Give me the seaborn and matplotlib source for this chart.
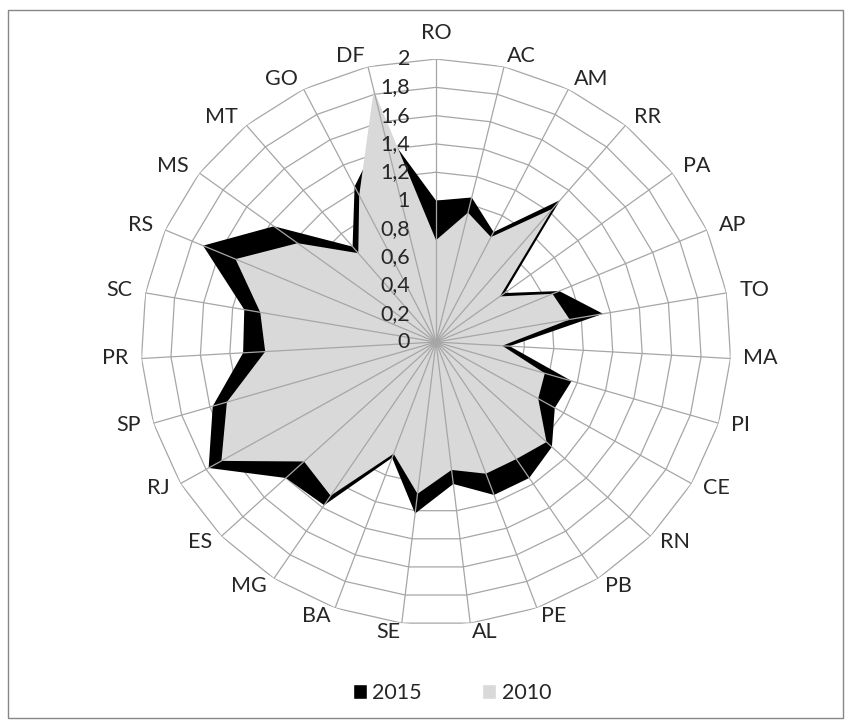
import numpy as np
import matplotlib
matplotlib.use("Agg")
import matplotlib.pyplot as plt
from matplotlib.patches import Patch, Rectangle
import seaborn as sns

# categories clockwise from the top
states = ["RO", "AC", "AM", "RR", "PA", "AP", "TO", "MA", "PI", "CE", "RN",
          "PB", "PE", "AL", "SE", "BA", "MG", "ES", "RJ", "SP", "PR", "SC",
          "RS", "MS", "MT", "GO", "DF"]

values_2015 = [1.00, 1.05, 0.87, 1.31, 0.58, 0.91, 1.15, 0.50, 0.96, 0.93,
               1.08, 1.15, 1.15, 1.01, 1.22, 0.87, 1.38, 1.40, 1.78, 1.58,
               1.31, 1.32, 1.72, 1.37, 0.88, 1.23, 1.55]
values_2010 = [0.72, 0.94, 0.83, 1.23, 0.54, 0.86, 0.92, 0.45, 0.77, 0.80,
               1.03, 0.99, 0.99, 0.91, 1.08, 0.84, 1.30, 1.23, 1.68, 1.48,
               1.16, 1.21, 1.48, 1.17, 0.82, 1.16, 1.83]

ring_levels = [0.2, 0.4, 0.6, 0.8, 1.0, 1.2, 1.4, 1.6, 1.8, 2.0]
tick_values = [0, 0.2, 0.4, 0.6, 0.8, 1.0, 1.2, 1.4, 1.6, 1.8, 2.0]
tick_labels = ["0", "0,2", "0,4", "0,6", "0,8", "1", "1,2", "1,4", "1,6",
               "1,8", "2"]

sns.set_theme(style="white")
plt.rcParams["font.family"] = ["Lato", "DejaVu Sans"]
plt.rcParams["font.size"] = 15.5
text_color = "#262626"
grid_color = "#a6a6a6"

fig = plt.figure(figsize=(8.51, 7.22), dpi=100)
fig.patches.append(
    Rectangle((8 / 851, 1 - 718 / 722), 835 / 851, 708 / 722,
              transform=fig.transFigure, fill=False,
              edgecolor="#878787", lw=1)
)

ax = fig.add_axes([0.1657, 0.1343, 0.6933, 0.7839], projection="polar")
ax.set_aspect("auto")
ax.set_theta_zero_location("N")
ax.set_theta_direction(-1)
ax.set_ylim(0, 2)
ax.grid(False)
ax.spines["polar"].set_visible(False)
ax.set_xticks([])
ax.set_yticks([])
ax.patch.set_alpha(0)

angles = np.linspace(0, 2 * np.pi, len(states), endpoint=False)
closed = np.append(angles, angles[0])

# polygon rings
for level in ring_levels:
    ax.plot(closed, [level] * len(closed), color=grid_color, lw=0.9, zorder=1)

# series
ax.fill(closed, values_2015 + values_2015[:1], color="black", lw=0, zorder=2)
ax.fill(closed, values_2010 + values_2010[:1], color="#d9d9d9", lw=0, zorder=3)

# spokes
for a in angles:
    ax.plot([a, a], [0, 2], color=grid_color, lw=0.9, zorder=4)

# value axis labels along the top spoke
for v, lab in zip(tick_values, tick_labels):
    ax.annotate(lab, xy=(0, v), xytext=(-26, 0), textcoords="offset pixels",
                ha="right", va="center", color=text_color, zorder=5,
                annotation_clip=False)

# category labels
for a, name in zip(angles, states):
    s, c = np.sin(a), np.cos(a)
    if abs(s) < 0.05:
        ha = "center"
    else:
        ha = "left" if s > 0 else "right"
    dy = 10 * c + 1
    if name == "RO":
        dy += 15
    ax.annotate(name, xy=(a, 2.0), xytext=(13 * s, dy),
                textcoords="offset pixels", ha=ha, va="center",
                color=text_color, annotation_clip=False)

handles = [Patch(facecolor="black", label="2015"),
           Patch(facecolor="#d9d9d9", label="2010")]
leg = fig.legend(handles=handles, loc="center",
                 bbox_to_anchor=(452 / 851, 1 - 693 / 722), ncol=2,
                 frameon=False, fontsize=15.5, handlelength=0.65,
                 handleheight=0.65, handletextpad=0.25, columnspacing=2.8)
for t in leg.get_texts():
    t.set_color(text_color)

fig.savefig("out.png", dpi=100)
